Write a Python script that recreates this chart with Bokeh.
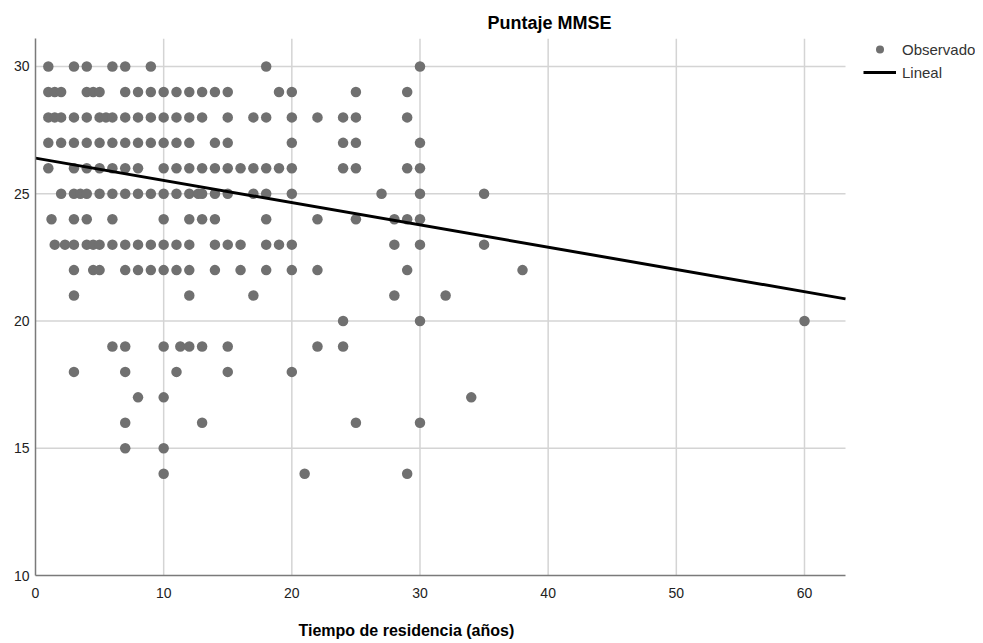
from bokeh.plotting import figure
from bokeh.models import Legend, LegendItem, Title, Range1d, FixedTicker
from bokeh.embed import file_html
from bokeh.resources import INLINE

# Observed MMSE scores: for each score, the residence times (years) observed
mmse_30 = [1, 3, 4, 6, 7, 9, 18, 30]
mmse_29 = [1, 1.5, 2, 4, 4.5, 5, 7, 8, 9, 10, 11, 12, 13, 14, 15, 19, 20, 25, 29]
mmse_28 = [1, 1.5, 2, 3, 4, 5, 5.5, 6, 7, 8, 9, 10, 11, 12, 13, 15, 17, 18, 20, 22, 24, 25, 29]
mmse_27 = [1, 2, 3, 4, 5, 6, 7, 8, 9, 10, 11, 12, 14, 15, 20, 24, 25, 30]
mmse_26 = [1, 3, 4, 5, 6, 7, 8, 10, 11, 12, 13, 14, 15, 16, 17, 18, 19, 20, 24, 25, 29, 30]
mmse_25 = [2, 3, 3.5, 4, 5, 6, 7, 8, 9, 10, 11, 12, 12.7, 13, 14, 15, 17, 18, 20, 27, 30, 35]
mmse_24 = [1.25, 3, 4, 6, 10, 12, 13, 14, 18, 22, 25, 28, 29, 30]
mmse_23 = [1.5, 2.3, 3, 4, 4.5, 5, 6, 7, 8, 9, 10, 11, 12, 14, 15, 16, 18, 19, 20, 28, 30, 35]
mmse_22 = [3, 4.5, 5, 7, 8, 9, 10, 11, 12, 14, 16, 18, 20, 22, 29, 38]
mmse_21 = [3, 12, 17, 28, 32]
mmse_20 = [24, 30, 60]
mmse_19 = [6, 7, 10, 11.3, 12, 13, 15, 22, 24]
mmse_18 = [3, 7, 11, 15, 20]
mmse_17 = [8, 10, 34]
mmse_16 = [7, 13, 25, 30]
mmse_15 = [7, 10]
mmse_14 = [10, 21, 29]

score_rows = [
    (30, mmse_30), (29, mmse_29), (28, mmse_28), (27, mmse_27), (26, mmse_26),
    (25, mmse_25), (24, mmse_24), (23, mmse_23), (22, mmse_22), (21, mmse_21),
    (20, mmse_20), (19, mmse_19), (18, mmse_18), (17, mmse_17), (16, mmse_16),
    (15, mmse_15), (14, mmse_14),
]

# Linear fit
fit_intercept = 26.4
fit_slope = -0.0875

x_ticks = [0, 10, 20, 30, 40, 50, 60]
y_ticks = [10, 15, 20, 25, 30]
x_start, x_end = 0, 63.2
y_start, y_end = 10, 31.1

xs, ys = [], []
for score, years in score_rows:
    xs += years
    ys += [score] * len(years)

FONT = "Liberation Sans"
PLOT_W = 810          # visible plotting area width (px)
FRAME_W = 940         # frame also holds the legend on its right
FRAME_H = 537
x_view_end = x_end * FRAME_W / PLOT_W

p = figure(frame_width=FRAME_W, frame_height=FRAME_H, output_backend="svg",
           toolbar_location=None,
           x_range=Range1d(x_start, x_view_end), y_range=Range1d(y_start, y_end),
           min_border_left=35, min_border_right=0, min_border_top=38,
           min_border_bottom=68)
p.outline_line_color = None
p.background_fill_color = "white"
p.border_fill_color = "white"

p.title.text = "Puntaje MMSE"
p.title.align = "left"
p.title.offset = 452
p.title.text_font = FONT
p.title.text_font_size = "18px"
p.title.text_font_style = "bold"
p.title.text_color = "black"
p.title.standoff = 11

xlabel = Title(text="Tiempo de residencia (años)", align="left", offset=263,
               text_font=FONT, text_font_size="16px", text_font_style="bold",
               text_color="black", standoff=39)
p.add_layout(xlabel, "below")

for ax, ticks, standoff in ((p.xaxis, x_ticks, 12), (p.yaxis, y_ticks, 6)):
    ax.ticker = FixedTicker(ticks=ticks)
    ax.axis_line_color = "#7a7a7a"
    ax.axis_line_width = 1.5
    ax.major_tick_line_color = None
    ax.minor_tick_line_color = None
    ax.major_tick_out = 0
    ax.major_tick_in = 0
    ax.minor_tick_out = 0
    ax.minor_tick_in = 0
    ax.major_label_text_font = FONT
    ax.major_label_text_font_size = "14px"
    ax.major_label_text_color = "#222222"
    ax.major_label_standoff = standoff
p.xaxis.bounds = (x_start, x_end)

# grid lines limited to the visible plotting area
p.xgrid.visible = False
p.ygrid.visible = False
gx = [t for t in x_ticks if t > x_start]
gy = [t for t in y_ticks if t > y_start]
p.segment(x0=gx, y0=[y_start] * len(gx), x1=gx, y1=[y_end] * len(gx),
          line_color="#d4d4d4", line_width=1.5)
p.segment(x0=[x_start] * len(gy), y0=gy, x1=[x_end] * len(gy), y1=gy,
          line_color="#d4d4d4", line_width=1.5)

r_obs = p.scatter(xs, ys, size=10.5, marker="circle", fill_color="#707070",
                  line_color=None)

fit_x = [x_start, x_end]
fit_y = [fit_intercept + fit_slope * v for v in fit_x]
r_fit = p.line(fit_x, fit_y, line_color="black", line_width=3)

legend = Legend(items=[LegendItem(label="Observado", renderers=[r_obs]),
                       LegendItem(label="Lineal", renderers=[r_fit])],
                location=(PLOT_W + 18, FRAME_H - 1 - 43), margin=0, padding=0,
                glyph_width=33, glyph_height=20, label_height=20, spacing=3,
                label_standoff=6, label_text_font=FONT,
                label_text_font_size="15px", label_text_color="#333333",
                border_line_color=None, background_fill_alpha=0)
p.add_layout(legend, "center")

open("out.html", "w").write(file_html(p, INLINE))
